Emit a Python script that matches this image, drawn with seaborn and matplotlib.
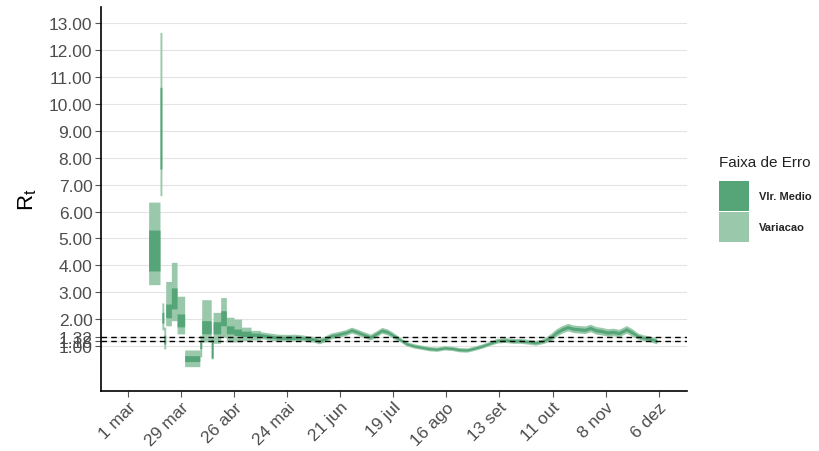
import matplotlib
matplotlib.use("Agg")
import matplotlib.pyplot as plt
from matplotlib.patches import Patch
import pandas as pd
import seaborn as sns

# step-like early estimates (start, end, band limits)
seg_start = ["2020-03-12", "2020-03-18", "2020-03-19", "2020-03-20", "2020-03-21",
             "2020-03-24", "2020-03-27", "2020-03-31", "2020-04-08", "2020-04-09",
             "2020-04-14", "2020-04-15", "2020-04-19", "2020-04-22", "2020-04-26",
             "2020-04-30", "2020-05-05"]
seg_end = ["2020-03-18", "2020-03-19", "2020-03-20", "2020-03-21", "2020-03-24",
           "2020-03-27", "2020-03-31", "2020-04-08", "2020-04-09", "2020-04-14",
           "2020-04-15", "2020-04-19", "2020-04-22", "2020-04-26", "2020-04-30",
           "2020-05-05", "2020-05-10"]
seg_var_lo = [3.28, 6.59, 1.60, 0.89, 1.75, 1.94, 1.45, 0.23, 0.60, 1.15, 0.52, 1.10, 1.32, 1.15, 1.15, 1.20, 1.22]
seg_med_lo = [3.79, 7.58, 1.85, 1.07, 2.05, 2.38, 1.71, 0.42, 0.90, 1.45, 0.55, 1.45, 1.75, 1.45, 1.39, 1.35, 1.35]
seg_med_hi = [5.31, 10.62, 2.25, 1.40, 2.56, 3.16, 2.19, 0.64, 1.20, 1.94, 1.25, 1.90, 2.31, 1.75, 1.63, 1.55, 1.48]
seg_var_hi = [6.35, 12.66, 2.60, 1.70, 3.40, 4.11, 2.85, 0.85, 1.40, 2.72, 1.35, 2.25, 2.80, 2.07, 2.00, 1.70, 1.58]

# smoother estimates from May onwards
dates = ["2020-05-10", "2020-05-14", "2020-05-19", "2020-05-24", "2020-05-28",
         "2020-06-01", "2020-06-04", "2020-06-07", "2020-06-10", "2020-06-13",
         "2020-06-16", "2020-06-20", "2020-06-24", "2020-06-27", "2020-06-30",
         "2020-07-03", "2020-07-07", "2020-07-10", "2020-07-13", "2020-07-16",
         "2020-07-19", "2020-07-23", "2020-07-26", "2020-07-30", "2020-08-03",
         "2020-08-07", "2020-08-11", "2020-08-15", "2020-08-19", "2020-08-23",
         "2020-08-27", "2020-08-31", "2020-09-04", "2020-09-08", "2020-09-12",
         "2020-09-16", "2020-09-20", "2020-09-24", "2020-09-28", "2020-10-02",
         "2020-10-06", "2020-10-10", "2020-10-13", "2020-10-16", "2020-10-19",
         "2020-10-22", "2020-10-25", "2020-10-28", "2020-10-31", "2020-11-03",
         "2020-11-06", "2020-11-09", "2020-11-12", "2020-11-15", "2020-11-19",
         "2020-11-22", "2020-11-25", "2020-11-28", "2020-12-01", "2020-12-05"]
var_lo = [1.27, 1.23, 1.18, 1.17, 1.18, 1.19, 1.16, 1.14, 1.08, 1.15,
          1.26, 1.32, 1.39, 1.48, 1.41, 1.32, 1.22, 1.34, 1.47, 1.41,
          1.28, 1.14, 1.00, 0.92, 0.87, 0.82, 0.80, 0.85, 0.83, 0.78,
          0.77, 0.84, 0.92, 1.02, 1.11, 1.13, 1.10, 1.10, 1.07, 1.03,
          1.09, 1.18, 1.36, 1.48, 1.56, 1.50, 1.48, 1.46, 1.53, 1.44,
          1.41, 1.36, 1.38, 1.34, 1.48, 1.36, 1.26, 1.19, 1.16, 1.08]
med_lo = [1.34, 1.30, 1.25, 1.24, 1.25, 1.25, 1.22, 1.20, 1.14, 1.21,
          1.32, 1.38, 1.45, 1.54, 1.47, 1.38, 1.28, 1.40, 1.53, 1.47,
          1.34, 1.18, 1.04, 0.96, 0.91, 0.86, 0.84, 0.89, 0.87, 0.82,
          0.81, 0.88, 0.96, 1.06, 1.16, 1.18, 1.15, 1.15, 1.12, 1.08,
          1.14, 1.26, 1.44, 1.56, 1.64, 1.58, 1.56, 1.54, 1.61, 1.52,
          1.49, 1.44, 1.46, 1.42, 1.56, 1.44, 1.32, 1.25, 1.22, 1.14]
med_hi = [1.46, 1.42, 1.37, 1.36, 1.37, 1.35, 1.32, 1.30, 1.24, 1.31,
          1.42, 1.48, 1.55, 1.64, 1.57, 1.48, 1.38, 1.50, 1.63, 1.57,
          1.44, 1.26, 1.12, 1.04, 0.99, 0.94, 0.92, 0.97, 0.95, 0.90,
          0.89, 0.96, 1.04, 1.14, 1.24, 1.26, 1.23, 1.23, 1.20, 1.16,
          1.22, 1.38, 1.56, 1.68, 1.76, 1.70, 1.68, 1.66, 1.73, 1.64,
          1.61, 1.56, 1.58, 1.54, 1.68, 1.56, 1.42, 1.35, 1.32, 1.24]
var_hi = [1.53, 1.49, 1.44, 1.43, 1.44, 1.41, 1.38, 1.36, 1.30, 1.37,
          1.48, 1.54, 1.61, 1.70, 1.63, 1.54, 1.44, 1.56, 1.69, 1.63,
          1.50, 1.30, 1.16, 1.08, 1.03, 0.98, 0.96, 1.01, 0.99, 0.94,
          0.93, 1.00, 1.08, 1.18, 1.29, 1.31, 1.28, 1.28, 1.25, 1.21,
          1.27, 1.46, 1.64, 1.76, 1.84, 1.78, 1.76, 1.74, 1.81, 1.72,
          1.69, 1.64, 1.66, 1.62, 1.76, 1.64, 1.48, 1.41, 1.38, 1.29]

ref_lines = [1.32, 1.18]
x_ticks = ["2020-03-01", "2020-03-29", "2020-04-26", "2020-05-24", "2020-06-21",
           "2020-07-19", "2020-08-16", "2020-09-13", "2020-10-11", "2020-11-08",
           "2020-12-06"]
x_labels = ["1 mar", "29 mar", "26 abr", "24 mai", "21 jun", "19 jul",
            "16 ago", "13 set", "11 out", "8 nov", "6 dez"]

DARK = "#55a578"
LIGHT = "#99c9aa"

# one table: every step gives two rows (start and end)
rows = []
for s, e, a, b, c, d in zip(seg_start, seg_end, seg_var_lo, seg_med_lo, seg_med_hi, seg_var_hi):
    rows.append((s, a, b, c, d))
    rows.append((e, a, b, c, d))
for row in zip(dates, var_lo, med_lo, med_hi, var_hi):
    rows.append(row)
df = pd.DataFrame(rows, columns=["date", "var_lo", "med_lo", "med_hi", "var_hi"])
df["date"] = pd.to_datetime(df["date"])

sns.set_theme(style="whitegrid")
plt.rcParams["font.family"] = ["Liberation Sans", "DejaVu Sans"]
plt.rcParams["mathtext.default"] = "regular"

fig = plt.figure(figsize=(8.19, 4.52), dpi=100)
ax = fig.add_axes([0.123, 0.133, 0.716, 0.849])

ax.fill_between(df["date"], df["var_lo"], df["var_hi"], color=LIGHT, linewidth=0)
ax.fill_between(df["date"], df["med_lo"], df["med_hi"], color=DARK, linewidth=0)
for v in ref_lines:
    ax.axhline(v, color="black", linestyle=(0, (4, 3)), linewidth=1.0, zorder=5)

y_ticks = list(range(1, 14)) + ref_lines
ax.set_yticks(y_ticks)
ax.set_yticklabels([f"{v:.2f}" for v in y_ticks])
ax.set_ylim(-0.67, 13.6)

ax.set_xticks(pd.to_datetime(x_ticks))
ax.set_xticklabels(x_labels, rotation=45, ha="right", rotation_mode="anchor")
ax.set_xlim(pd.Timestamp("2020-02-15 18:00"), pd.Timestamp("2020-12-21"))

ax.grid(axis="y", color="#e3e3e3", linewidth=0.8)
ax.grid(axis="x", visible=False)
ax.set_facecolor("white")
for side in ["top", "right"]:
    ax.spines[side].set_visible(False)
for side in ["left", "bottom"]:
    ax.spines[side].set_color("black")
    ax.spines[side].set_linewidth(1.2)
ax.tick_params(axis="both", which="both", length=4, width=0.8, color="#555555",
               labelsize=12.5, labelcolor="#4d4d4d", pad=2)
ax.tick_params(axis="y", left=True)
ax.tick_params(axis="x", bottom=True)

ax.set_xlabel("")
ax.set_ylabel("$R_t$", fontsize=16, labelpad=7, color="black")

# legend keys, with the title placed on its own (gap as in the original)
handles = [Patch(facecolor=DARK, edgecolor="none", label="Vlr. Medio"),
           Patch(facecolor=LIGHT, edgecolor="none", label="Variacao")]
fig.legend(handles=handles, loc="upper left", bbox_to_anchor=(0.8706, 0.610),
           frameon=False, prop={"size": 8, "weight": "bold"},
           handlelength=2.75, handleheight=3.75, handletextpad=0.85,
           labelspacing=0.16, borderpad=0)
fig.text(719 / 819, 1 - 163 / 452, "Faixa de Erro", fontsize=11,
         ha="left", va="center", color="#222222")

fig.savefig("out.png", dpi=100)
